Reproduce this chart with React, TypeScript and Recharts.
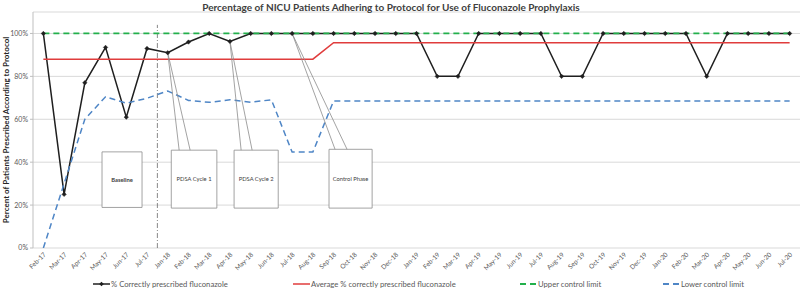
import React from 'react';
import {
  LineChart,
  Line,
  XAxis,
  YAxis,
  CartesianGrid,
  Legend,
  ReferenceLine,
  ReferenceArea,
} from 'recharts';

// Monthly audit periods (Aug–Dec 2017 were not audited)
const months = [
  'Feb-17', 'Mar-17', 'Apr-17', 'May-17', 'Jun-17', 'Jul-17',
  'Jan-18', 'Feb-18', 'Mar-18', 'Apr-18', 'May-18', 'Jun-18',
  'Jul-18', 'Aug-18', 'Sep-18', 'Oct-18', 'Nov-18', 'Dec-18',
  'Jan-19', 'Feb-19', 'Mar-19', 'Apr-19', 'May-19', 'Jun-19',
  'Jul-19', 'Aug-19', 'Sep-19', 'Oct-19', 'Nov-19', 'Dec-19',
  'Jan-20', 'Feb-20', 'Mar-20', 'Apr-20', 'May-20', 'Jun-20', 'Jul-20',
];

// % correctly prescribed fluconazole
const correctlyPrescribed = [
  100, 25, 77, 93.5, 61, 93,
  91, 96, 100, 96.3, 100, 100, 100, 100, 100, 100, 100, 100,
  100, 80, 80, 100, 100, 100, 100, 80, 80, 100, 100, 100,
  100, 100, 80, 100, 100, 100, 100,
];

// Centre line (mean) before and after the process shift
const averageCorrect = [
  88, 88, 88, 88, 88, 88,
  88, 88, 88, 88, 88, 88, 88, 88, 95.7, 95.7, 95.7, 95.7,
  95.7, 95.7, 95.7, 95.7, 95.7, 95.7, 95.7, 95.7, 95.7, 95.7, 95.7, 95.7,
  95.7, 95.7, 95.7, 95.7, 95.7, 95.7, 95.7,
];

const upperControlLimit = [
  100, 100, 100, 100, 100, 100,
  100, 100, 100, 100, 100, 100, 100, 100, 100, 100, 100, 100,
  100, 100, 100, 100, 100, 100, 100, 100, 100, 100, 100, 100,
  100, 100, 100, 100, 100, 100, 100,
];

const lowerControlLimit = [
  0, 30, 60, 70.5, 67.5, 69.8,
  73.2, 68.8, 67.9, 69.1, 67.9, 69.1, 44.7, 44.7, 68.5, 68.5, 68.5, 68.5,
  68.5, 68.5, 68.5, 68.5, 68.5, 68.5, 68.5, 68.5, 68.5, 68.5, 68.5, 68.5,
  68.5, 68.5, 68.5, 68.5, 68.5, 68.5, 68.5,
];

const yTicks = [0, 20, 40, 60, 80, 100];

const seriesNames = {
  correct: '% Correctly prescribed fluconazole',
  avg: 'Average % correctly prescribed fluconazole',
  ucl: 'Upper control limit',
  lcl: 'Lower control limit',
};

const data = months.map((month, idx) => ({
  idx,
  month,
  correct: correctlyPrescribed[idx],
  avg: averageCorrect[idx],
  ucl: upperControlLimit[idx],
  lcl: lowerControlLimit[idx],
}));

// Phase call-outs, in axis units (x = month index, y = percent).
// `anchor` is the month the pointer refers to; `foot` gives where the pointer meets the box.
const phaseCallouts = [
  { label: 'Baseline', x1: 2.83, x2: 4.76, y1: 18.9, y2: 44.8, bold: true },
  { label: 'PDSA Cycle 1', x1: 6.17, x2: 8.37, y1: 18.6, y2: 45.6, anchor: 6, foot: [6.55, 7.08] },
  { label: 'PDSA Cycle 2', x1: 9.2, x2: 11.33, y1: 18.6, y2: 45.6, anchor: 9, foot: [9.54, 10.07] },
  { label: 'Control Phase', x1: 13.78, x2: 15.86, y1: 18.6, y2: 46, anchor: 12, foot: [14.07, 14.65] },
];

const FONT = "Lato, 'Open Sans', 'DejaVu Sans', sans-serif";
const TEXT = '#595959';
const AXIS = '#bfbfbf';
const GRID = '#d9d9d9';
const BLACK = '#1f1f1f';
const RED = '#e03c3c';
const GREEN = '#22b04b';
const BLUE = '#4f86c6';

const lastIdx = months.length - 1;
const monthTicks = months.map((_, i) => i);
const boundaryTicks = [...months.map((_, i) => i - 0.5), lastIdx + 0.5];

const Diamond = (props: any) => {
  const { cx, cy, index } = props;
  if (cx == null || cy == null) return <g key={`d-${index}`} />;
  const r = 2.2;
  return (
    <path
      key={`d-${index}`}
      d={`M${cx},${cy - r} L${cx + r},${cy} L${cx},${cy + r} L${cx - r},${cy} Z`}
      fill={BLACK}
      stroke={BLACK}
      strokeWidth={0.5}
    />
  );
};

const MonthTick = (props: any) => {
  const { x, y, payload } = props;
  const tx = x + 3;
  const ty = y + 5;
  return (
    <text
      x={tx}
      y={ty}
      transform={`rotate(-45 ${tx} ${ty})`}
      textAnchor="end"
      fontSize={6.5}
      fontFamily={FONT}
      fill={TEXT}
    >
      {months[payload.value]}
    </text>
  );
};

const YTitle = (props: any) => {
  const { viewBox } = props;
  const cy = viewBox.y + viewBox.height / 2;
  const cx = 6;
  return (
    <text
      x={cx}
      y={cy}
      transform={`rotate(-90 ${cx} ${cy})`}
      textAnchor="middle"
      dominantBaseline="central"
      fontSize={8}
      fontWeight={700}
      fontFamily={FONT}
      fill="#262626"
    >
      Percent of Patients Prescribed According to Protocol
    </text>
  );
};

const LegendRow = () => {
  const cy = 8;
  const items = [
    { x: 93, color: BLACK, dash: undefined, marker: true, text: seriesNames.correct },
    { x: 293, color: RED, dash: undefined, marker: false, text: seriesNames.avg },
    { x: 520, color: GREEN, dash: '6 4', marker: false, text: seriesNames.ucl },
    { x: 663, color: BLUE, dash: '6 4', marker: false, text: seriesNames.lcl },
  ];
  return (
    <svg width={800} height={20} style={{ display: 'block' }}>
      {items.map((it) => (
        <g key={it.text}>
          <line
            x1={it.x}
            x2={it.x + 17}
            y1={cy}
            y2={cy}
            stroke={it.color}
            strokeWidth={it.dash ? 1.8 : 1.5}
            strokeDasharray={it.dash}
          />
          {it.marker && (
            <path
              d={`M${it.x + 8.5},${cy - 2.3} L${it.x + 10.8},${cy} L${it.x + 8.5},${cy + 2.3} L${it.x + 6.2},${cy} Z`}
              fill={BLACK}
            />
          )}
          <text
            x={it.x + 18}
            y={cy}
            dominantBaseline="central"
            fontSize={7.7}
            fontFamily={FONT}
            fill={TEXT}
          >
            {it.text}
          </text>
        </g>
      ))}
    </svg>
  );
};

export default function App() {
  return (
    <div style={{ position: 'absolute', left: 0, top: 0, width: 800, height: 296, background: '#fff' }}>
      <div
        style={{
          position: 'absolute',
          left: 0,
          top: 1,
          width: 782,
          textAlign: 'center',
          fontFamily: FONT,
          fontWeight: 700,
          fontSize: 10,
          color: '#404040',
          zIndex: 2,
          pointerEvents: 'none',
        }}
      >
        Percentage of NICU Patients Adhering to Protocol for Use of Fluconazole Prophylaxis
      </div>
      <LineChart
        width={800}
        height={296}
        data={data}
        margin={{ top: 12, right: 0, bottom: 0, left: 0 }}
      >
        <CartesianGrid horizontal vertical={false} stroke={GRID} strokeWidth={1} />
        <XAxis
          xAxisId="bounds"
          type="number"
          dataKey="idx"
          domain={[-0.5, lastIdx + 0.5]}
          ticks={boundaryTicks}
          interval={0}
          tick={false}
          tickSize={4}
          tickLine={{ stroke: AXIS }}
          axisLine={{ stroke: AXIS }}
          height={0}
          allowDataOverflow
        />
        <XAxis
          xAxisId="main"
          type="number"
          dataKey="idx"
          domain={[-0.5, lastIdx + 0.5]}
          ticks={monthTicks}
          interval={0}
          tick={<MonthTick />}
          tickLine={false}
          axisLine={false}
          tickSize={0}
          height={28}
          allowDataOverflow
        />
        <YAxis
          type="number"
          domain={[0, 110]}
          ticks={yTicks}
          interval={0}
          width={33}
          tickFormatter={(v: number) => `${v}%`}
          tick={{ fontSize: 7, fill: TEXT, fontFamily: FONT }}
          tickSize={3}
          tickLine={{ stroke: AXIS }}
          axisLine={{ stroke: AXIS }}
          allowDataOverflow
          label={<YTitle />}
        />

        {/* Boundary between baseline and intervention periods */}
        <ReferenceLine
          xAxisId="main"
          segment={[{ x: 5.5, y: 0 }, { x: 5.5, y: 104 }]}
          stroke="#6b6b6b"
          strokeWidth={0.8}
          strokeDasharray="5 2 1 2"
          ifOverflow="visible"
        />

        <Line
          xAxisId="main"
          type="linear"
          dataKey="correct"
          name={seriesNames.correct}
          stroke={BLACK}
          strokeWidth={1.5}
          dot={Diamond}
          activeDot={false}
          isAnimationActive={false}
        />
        <Line
          xAxisId="main"
          type="linear"
          dataKey="avg"
          name={seriesNames.avg}
          stroke={RED}
          strokeWidth={1.5}
          dot={false}
          activeDot={false}
          isAnimationActive={false}
        />
        <Line
          xAxisId="main"
          type="linear"
          dataKey="ucl"
          name={seriesNames.ucl}
          stroke={GREEN}
          strokeWidth={1.8}
          strokeDasharray="6 4"
          dot={false}
          activeDot={false}
          isAnimationActive={false}
        />
        <Line
          xAxisId="main"
          type="linear"
          dataKey="lcl"
          name={seriesNames.lcl}
          stroke={BLUE}
          strokeWidth={1.5}
          strokeDasharray="6 4"
          dot={false}
          activeDot={false}
          isAnimationActive={false}
        />

        {/* Call-out pointers */}
        {phaseCallouts.flatMap((c) =>
          c.anchor == null
            ? []
            : (c.foot as number[]).map((fx, k) => (
                <ReferenceLine
                  key={`${c.label}-p${k}`}
                  xAxisId="main"
                  segment={[
                    { x: c.anchor as number, y: correctlyPrescribed[c.anchor as number] },
                    { x: fx, y: c.y2 },
                  ]}
                  stroke="#8c8c8c"
                  strokeWidth={0.8}
                  ifOverflow="visible"
                />
              ))
        )}

        {/* Call-out boxes */}
        {phaseCallouts.map((c) => (
          <ReferenceArea
            key={c.label}
            xAxisId="main"
            x1={c.x1}
            x2={c.x2}
            y1={c.y1}
            y2={c.y2}
            fill="#ffffff"
            fillOpacity={1}
            stroke="#8c8c8c"
            strokeWidth={0.8}
            ifOverflow="visible"
            label={{
              value: c.label,
              position: 'center',
              fontSize: 5.8,
              fontWeight: c.bold ? 700 : 400,
              fontFamily: FONT,
              fill: '#404040',
            }}
          />
        ))}

        <Legend verticalAlign="bottom" align="left" content={<LegendRow />} />
      </LineChart>
    </div>
  );
}
